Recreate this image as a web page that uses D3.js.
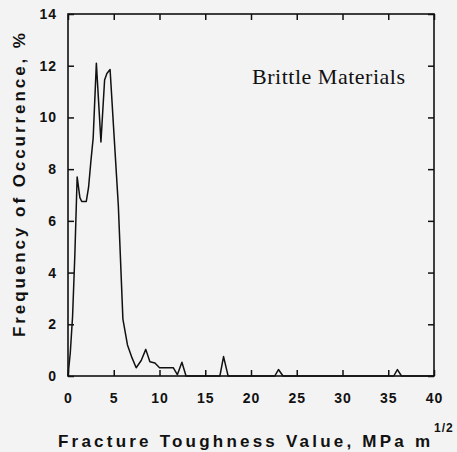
<!DOCTYPE html>
<html>
<head>
<meta charset="utf-8">
<script src="https://cdn.jsdelivr.net/npm/d3@7"></script>
<style>
    body { margin: 0; background: #f3f3f3; }
    svg { display: block; }
</style>
</head>
<body>
<div id="chart"></div>
<script>
// Toughness (MPa m^1/2) and frequency (%)
const toughness = [0, 0.25, 0.5, 0.75, 1.0, 1.3, 1.5, 2.0, 2.25, 2.5, 2.75, 3.1, 3.6, 4.0, 4.25, 4.6,
    5.0, 5.5, 6.0, 6.5, 7.0, 7.45, 8.0, 8.5, 8.95, 9.5, 10.0, 11.5, 11.95, 12.45, 12.9,
    16.6, 17.0, 17.5, 22.6, 23.0, 23.5, 35.6, 36.0, 36.45, 40];
const frequency = [0, 0.9, 2.3, 4.7, 7.7, 6.9, 6.75, 6.75, 7.3, 8.3, 9.2, 12.1, 9.05, 11.45, 11.7, 11.85,
    9.5, 6.6, 2.2, 1.2, 0.7, 0.32, 0.6, 1.03, 0.55, 0.5, 0.32, 0.32, 0.05, 0.53, 0,
    0, 0.75, 0, 0, 0.25, 0, 0, 0.25, 0, 0];
const xTicks = [0, 5, 10, 15, 20, 25, 30, 35, 40];
const yTicks = [0, 2, 4, 6, 8, 10, 12, 14];

const data = toughness.map((t, i) => ({x: t, y: frequency[i]}));

const width = 457, height = 452;
const margin = {top: 14, right: 23, bottom: 76, left: 68};

const svg = d3.select('#chart')
    .append('svg')
        .attr('width', width)
        .attr('height', height);

svg.append('rect')
    .attr('width', width)
    .attr('height', height)
    .attr('fill', '#f3f3f3');

const x = d3.scaleLinear().domain([0, 40]).range([margin.left, width - margin.right]);
const y = d3.scaleLinear().domain([0, 14]).range([height - margin.bottom, margin.top]);

const tickFont = g => g.selectAll('text')
    .attr('font-family', 'Liberation Sans, Arial, sans-serif')
    .attr('font-weight', 'bold')
    .attr('font-size', 14)
    .attr('letter-spacing', 1)
    .attr('fill', '#111');

// bottom axis, ticks pointing in
svg.append('g')
    .attr('transform', `translate(0,${y(0)})`)
    .call(d3.axisBottom(x).tickValues(xTicks).tickSizeInner(-6).tickSizeOuter(0).tickPadding(17))
    .call(g => g.select('.domain').remove())
    .call(tickFont);

svg.append('g')
    .attr('transform', `translate(0,${y(14)})`)
    .call(d3.axisTop(x).tickValues(xTicks).tickSizeInner(-6).tickSizeOuter(0).tickFormat(''))
    .call(g => g.select('.domain').remove());

svg.append('g')
    .attr('transform', `translate(${x(0)},0)`)
    .call(d3.axisLeft(y).tickValues(yTicks).tickSizeInner(-6).tickSizeOuter(0).tickPadding(11))
    .call(g => g.select('.domain').remove())
    .call(tickFont);

svg.append('g')
    .attr('transform', `translate(${x(40)},0)`)
    .call(d3.axisRight(y).tickValues(yTicks).tickSizeInner(-6).tickSizeOuter(0).tickFormat(''))
    .call(g => g.select('.domain').remove());

svg.selectAll('.tick line')
    .attr('stroke', '#111')
    .attr('stroke-width', 1.5);

// frame
svg.append('rect')
    .attr('x', x(0))
    .attr('y', y(14))
    .attr('width', x(40) - x(0))
    .attr('height', y(0) - y(14))
    .attr('fill', 'none')
    .attr('stroke', '#111')
    .attr('stroke-width', 1.6);

const line = d3.line()
    .x(d => x(d.x))
    .y(d => y(d.y));

svg.append('path')
    .datum(data)
    .attr('d', line)
    .attr('fill', 'none')
    .attr('stroke', '#111')
    .attr('stroke-width', 1.5)
    .attr('stroke-linejoin', 'round');

svg.append('text')
    .attr('x', 252)
    .attr('y', 84)
    .attr('font-family', 'Liberation Serif, Times New Roman, serif')
    .attr('font-size', 22)
    .attr('fill', '#111')
    .attr('textLength', 153)
    .attr('lengthAdjust', 'spacing')
    .text('Brittle Materials');

// x title
svg.append('text')
    .attr('x', 58)
    .attr('y', 447)
    .attr('font-family', 'Liberation Sans, Arial, sans-serif')
    .attr('font-weight', 'bold')
    .attr('font-size', 17)
    .attr('fill', '#111')
    .attr('textLength', 372)
    .attr('lengthAdjust', 'spacing')
    .text('Fracture Toughness Value, MPa m');

svg.append('text')
    .attr('x', 434)
    .attr('y', 432)
    .attr('font-family', 'Liberation Sans, Arial, sans-serif')
    .attr('font-weight', 'bold')
    .attr('font-size', 12)
    .attr('letter-spacing', 1)
    .attr('fill', '#111')
    .text('1/2');

// y title
svg.append('text')
    .attr('transform', 'translate(25,337) rotate(-90)')
    .attr('font-family', 'Liberation Sans, Arial, sans-serif')
    .attr('font-weight', 'bold')
    .attr('font-size', 17)
    .attr('fill', '#111')
    .attr('textLength', 304)
    .attr('lengthAdjust', 'spacing')
    .text('Frequency of Occurrence, %');
</script>
</body>
</html>
